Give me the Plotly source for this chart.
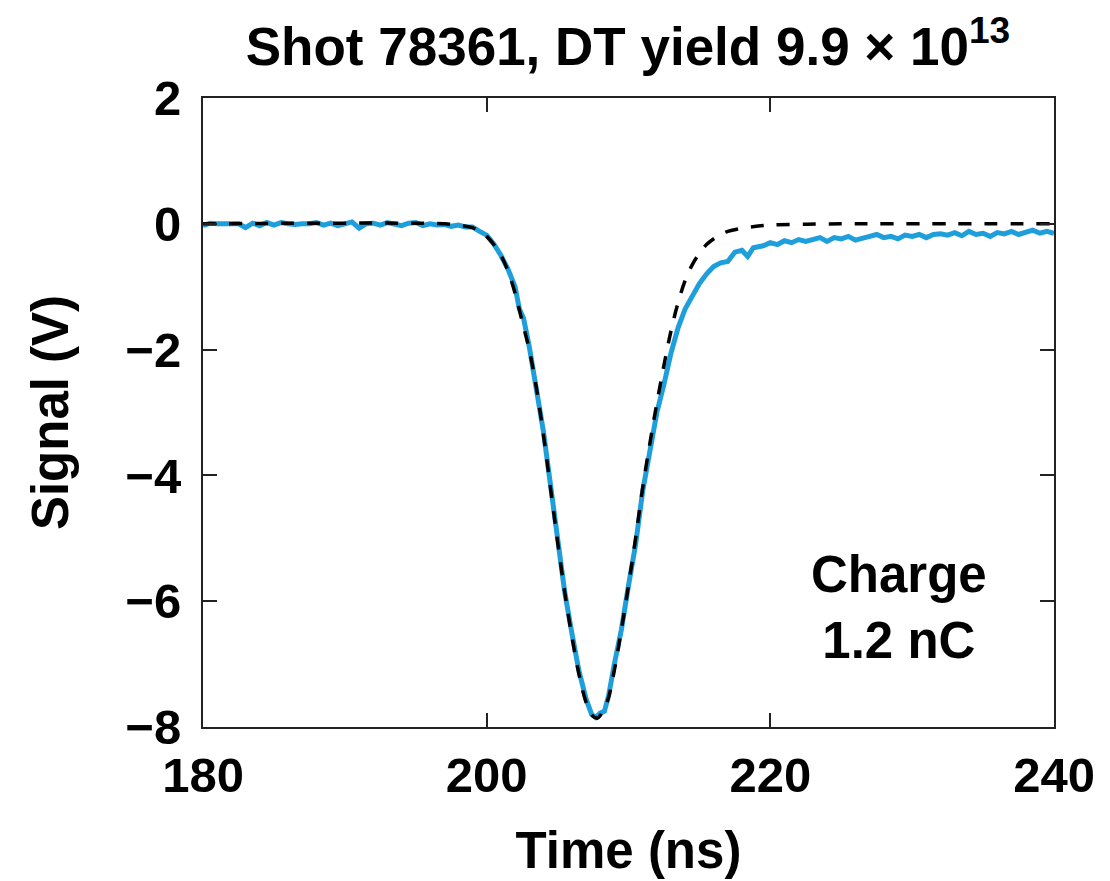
import plotly.graph_objects as go

# Measured signal (blue)
sig_t = [180.0, 180.5, 181.0, 181.5, 182.0, 182.5, 183.0, 183.5, 184.0, 184.5,
         185.0, 185.5, 186.0, 186.5, 187.0, 187.5, 188.0, 188.5, 189.0, 189.5,
         190.0, 190.5, 191.0, 191.5, 192.0, 192.5, 193.0, 193.5, 194.0, 194.5,
         195.0, 195.5, 196.0, 196.5, 197.0, 197.5, 198.0, 198.5, 199.0, 199.5,
         200.0, 200.5, 201.0, 201.5, 202.0, 202.3, 202.6, 203.0, 203.5, 204.0,
         204.5, 205.0, 205.5, 206.0, 206.5, 207.0, 207.4, 207.7, 208.0, 208.3,
         208.6, 209.0, 209.5, 210.0, 210.5, 211.0, 211.5, 212.0, 212.5, 213.0,
         213.5, 214.0, 214.5, 215.0, 215.5, 216.0, 216.5, 217.0, 217.5, 218.0,
         218.4, 218.8, 219.5, 220.0, 220.5, 221.0, 221.5, 222.0, 222.5, 223.0,
         223.5, 224.0, 224.5, 225.0, 225.5, 226.0, 226.5, 227.0, 227.5, 228.0,
         228.5, 229.0, 229.5, 230.0, 230.5, 231.0, 231.5, 232.0, 232.5, 233.0,
         233.5, 234.0, 234.5, 235.0, 235.5, 236.0, 236.5, 237.0, 237.5, 238.0,
         238.5, 239.0, 239.5, 240.0]
sig_v = [-0.03, 0.01, 0.0, 0.0, -0.01, 0.0, -0.06, 0.01, -0.03, 0.02,
         -0.02, 0.02, 0.0, -0.01, 0.0, 0.0, 0.02, -0.02, 0.01, -0.03,
         0.0, 0.03, -0.07, 0.0, 0.01, -0.02, 0.02, 0.0, -0.03, 0.01,
         0.02, -0.03, 0.0, -0.02, -0.01, -0.04, -0.02, -0.05, -0.05, -0.12,
         -0.18, -0.32, -0.50, -0.72, -1.00, -1.35, -1.50, -1.95, -2.60, -3.30,
         -4.15, -5.05, -5.85, -6.50, -7.10, -7.55, -7.80, -7.85, -7.78, -7.75,
         -7.50, -7.00, -6.45, -5.75, -5.10, -4.25, -3.65, -3.00, -2.55, -2.05,
         -1.65, -1.35, -1.15, -0.95, -0.80, -0.68, -0.62, -0.60, -0.45, -0.42,
         -0.52, -0.38, -0.35, -0.30, -0.33, -0.27, -0.30, -0.25, -0.28, -0.24,
         -0.22, -0.28, -0.22, -0.24, -0.20, -0.26, -0.22, -0.20, -0.17, -0.22,
         -0.20, -0.24, -0.18, -0.20, -0.17, -0.22, -0.17, -0.16, -0.18, -0.14,
         -0.19, -0.12, -0.17, -0.15, -0.20, -0.14, -0.16, -0.12, -0.17, -0.14,
         -0.10, -0.15, -0.12, -0.15]

# Fit (dashed black)
fit_t = [180.0, 197.0, 198.0, 199.0, 199.5, 200.0, 200.5, 201.0, 201.5, 202.0,
         202.5, 203.0, 203.5, 204.0, 204.5, 205.0, 205.5, 206.0, 206.5, 207.0,
         207.5, 207.8, 208.0, 208.5, 209.0, 209.5, 210.0, 210.5, 211.0, 211.5,
         212.0, 212.5, 213.0, 213.5, 214.0, 214.5, 215.0, 215.5, 216.0, 216.5,
         217.0, 218.0, 219.0, 220.0, 222.0, 225.0, 240.0]
fit_v = [0.0, 0.0, -0.02, -0.06, -0.12, -0.20, -0.33, -0.50, -0.75, -1.10,
         -1.55, -2.00, -2.60, -3.35, -4.20, -5.05, -5.85, -6.55, -7.15, -7.60,
         -7.83, -7.86, -7.82, -7.60, -7.10, -6.45, -5.75, -5.00, -4.20, -3.50,
         -2.85, -2.25, -1.70, -1.25, -0.90, -0.65, -0.47, -0.33, -0.24, -0.17,
         -0.12, -0.07, -0.04, -0.02, -0.01, 0.0, 0.0]

x_ticks = [180, 200, 220, 240]
y_ticks = [-8, -6, -4, -2, 0, 2]

FONT = "Liberation Sans, Arial, sans-serif"

fig = go.Figure()
fig.add_trace(go.Scatter(x=sig_t, y=sig_v, mode="lines",
                         line=dict(color="#1e9fdc", width=5), showlegend=False))
fig.add_trace(go.Scatter(x=fit_t, y=fit_v, mode="lines",
                         line=dict(color="black", width=3.5, dash="13px,13px"),
                         line_shape="spline", showlegend=False))

fig.add_annotation(x=0.818, y=0.19, xref="paper", yref="paper",
                   xanchor="center", yanchor="middle",
                   text="<b>Charge<br>1.2 nC</b>", showarrow=False,
                   font=dict(family=FONT, size=51, color="black"), align="center")

axis_common = dict(showgrid=False, zeroline=False, showline=True, linecolor="#222",
                   linewidth=2, mirror="ticks", ticks="inside", ticklen=14,
                   tickwidth=2, tickcolor="#222",
                   tickfont=dict(family=FONT, size=49, color="black"))

fig.update_xaxes(range=[180, 240], tickvals=x_ticks,
                 ticktext=[f"<b>{v}</b>" for v in x_ticks],
                 ticklabelstandoff=4,
                 title=dict(text="<b>Time (ns)</b>", standoff=32,
                            font=dict(family=FONT, size=51, color="black")),
                 **axis_common)
fig.update_yaxes(range=[-8, 2], tickvals=y_ticks,
                 ticktext=[f"<b>{'\u2212' if v < 0 else ''}{abs(v)}</b>" for v in y_ticks],
                 ticklabelstandoff=10,
                 title=dict(text="<b>Signal (V)</b>", standoff=40,
                            font=dict(family=FONT, size=51, color="black")),
                 **axis_common)

fig.update_layout(
    width=1102, height=873,
    margin=dict(l=195, r=56, t=90, b=154),
    paper_bgcolor="white", plot_bgcolor="white",
    title=dict(text="<b>Shot 78361, DT yield 9.9 \u00d7 10<sup>13</sup></b>",
               x=0.5626, xanchor="center", y=0.956, yanchor="middle",
               font=dict(family=FONT, size=53, color="black")),
)

fig.write_html("out.html")
